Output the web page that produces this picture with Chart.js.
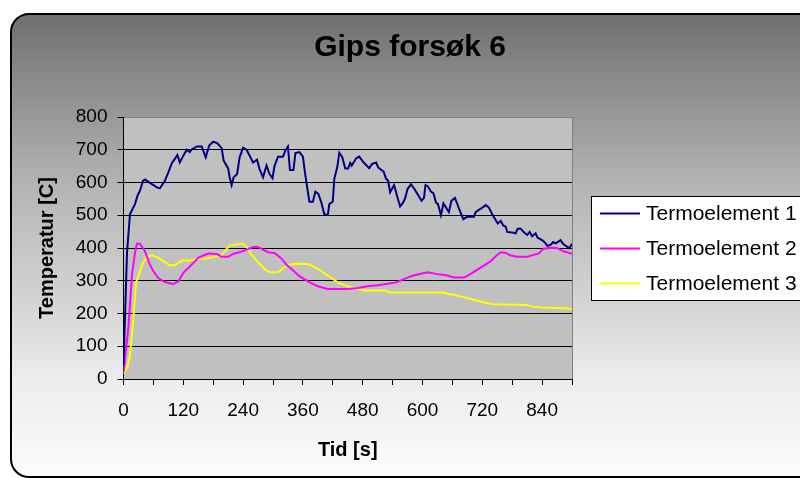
<!DOCTYPE html>
<html>
<head>
<meta charset="utf-8">
<script src="https://cdn.jsdelivr.net/npm/chart.js@4"></script>
<style>
  html, body { margin: 0; padding: 0; background: #fff; }
  #cadre { width: 800px; height: 478px; }
</style>
</head>
<body>
<div id="cadre"><canvas id="monGraphique" width="800" height="478"></canvas></div>
<script>
// Noms et couleurs des séries
const nomsSeries = ['Termoelement 1', 'Termoelement 2', 'Termoelement 3'];
const couleursSeries = ['#000080', '#FF00FF', '#FFFF00'];

// Termoelement 1 (temps en s, température en C)
const temps1 = [0, 7, 13, 23, 28, 33, 39, 43, 57, 67, 73, 83, 90, 97, 103, 108, 113, 120, 127, 133,
  137, 147, 157, 165, 172, 180, 188, 197, 201, 210, 213, 217, 221, 228, 233, 240, 247, 253, 260, 268,
  273, 280, 287, 293, 299, 303, 310, 320, 325, 330, 334, 341, 345, 353, 360, 365, 373, 380, 385, 391,
  397, 403, 410, 413, 420, 423, 429, 433, 439, 445, 451, 455, 458, 467, 473, 482, 493, 499, 507, 511,
  522, 527, 531, 535, 543, 549, 555, 560, 565, 570, 577, 585, 593, 598, 603, 606, 611, 617, 622, 627,
  631, 637, 642, 647, 653, 658, 665, 670, 675, 682, 689, 697, 703, 707, 717, 727, 733, 740, 747, 751,
  757, 762, 767, 770, 780, 787, 791, 797, 803, 810, 815, 820, 827, 831, 838, 845, 851, 858, 862, 867,
  871, 877, 882, 890, 895, 900];
const temp1 = [42, 385, 503, 534, 559, 575, 605, 609, 595, 585, 582, 605, 631, 659, 672, 684, 661, 682, 700, 693,
  701, 710, 710, 677, 713, 725, 720, 705, 667, 643, 616, 592, 616, 626, 677, 706, 700, 682, 661, 670,
  641, 616, 652, 626, 613, 650, 679, 679, 698, 710, 638, 638, 690, 693, 679, 621, 541, 541, 572, 565,
  539, 503, 501, 534, 542, 611, 647, 691, 677, 643, 643, 660, 652, 674, 679, 661, 644, 657, 661, 646,
  633, 611, 606, 570, 592, 559, 527, 536, 551, 580, 595, 577, 557, 544, 553, 592, 588, 572, 567, 539,
  534, 500, 536, 524, 510, 544, 553, 534, 513, 488, 495, 496, 495, 510, 520, 531, 524, 503, 485, 475,
  483, 469, 465, 449, 447, 445, 459, 459, 449, 440, 449, 436, 445, 431, 426, 418, 406, 411, 418, 414,
  418, 424, 413, 404, 399, 413];

// Termoelement 2
const temps2 = [0, 10, 17, 23, 27, 33, 43, 53, 60, 70, 80, 90, 100, 110, 120, 130, 140, 150, 160, 170,
  187, 197, 210, 220, 233, 247, 260, 270, 280, 290, 303, 317, 327, 340, 353, 370, 390, 410, 450, 470,
  490, 510, 530, 547, 563, 577, 590, 610, 627, 647, 663, 683, 693, 707, 723, 737, 747, 757, 767, 777,
  790, 810, 823, 833, 843, 857, 870, 883, 900];
const temp2 = [20, 160, 319, 385, 413, 413, 390, 349, 329, 308, 298, 293, 290, 298, 324, 339, 354, 370, 377, 383,
  382, 373, 373, 382, 387, 395, 403, 403, 395, 387, 385, 368, 349, 332, 314, 298, 283, 275, 275, 278,
  283, 286, 291, 295, 305, 314, 319, 326, 321, 317, 310, 310, 317, 331, 346, 360, 375, 387, 385, 377,
  373, 373, 379, 383, 398, 401, 400, 390, 382];

// Termoelement 3
const temps3 = [0, 8, 13, 19, 25, 32, 39, 47, 57, 67, 80, 93, 103, 117, 133, 153, 167, 187, 197, 203,
  213, 227, 237, 245, 257, 270, 283, 293, 310, 323, 337, 350, 370, 383, 397, 410, 430, 450, 470, 483,
  527, 533, 643, 650, 663, 683, 703, 727, 743, 810, 820, 840, 887, 900];
const temp3 = [16, 37, 73, 170, 293, 324, 354, 373, 378, 372, 360, 347, 347, 362, 362, 367, 368, 375, 377, 390,
  408, 411, 414, 406, 380, 357, 336, 326, 326, 342, 351, 352, 351, 342, 329, 316, 295, 283, 275, 270,
  270, 264, 264, 260, 257, 250, 242, 233, 228, 226, 221, 218, 216, 213];

// Axes
const tempsMax = 900;
const pasGraduation = 60;
const pasEtiquette = 120;
const temperatureMax = 800;
const pasTemperature = 100;

const police = '"Liberation Sans", Arial, sans-serif';
Chart.defaults.font.family = police;
Chart.defaults.color = '#000';

function enPoints(xs, ys) {
  return xs.map((x, i) => ({ x: x, y: ys[i] }));
}

// Fond dégradé, cadre arrondi et zone de tracé grise
const fondExcel = {
  id: 'fondExcel',
  beforeDraw(chart) {
    const ctx = chart.ctx;
    const a = chart.chartArea;
    ctx.save();
    ctx.fillStyle = '#fff';
    ctx.fillRect(0, 0, chart.width, chart.height);

    const x0 = 11, y0 = 14, x1 = 832, y1 = 477, r = 18;
    const grad = ctx.createLinearGradient(0, y0, 0, y1);
    grad.addColorStop(0, '#6e6e6e');
    grad.addColorStop(0.076, '#7e7e7e');
    grad.addColorStop(0.37, '#b4b4b4');
    grad.addColorStop(0.62, '#d4d4d4');
    grad.addColorStop(0.79, '#ececec');
    grad.addColorStop(1, '#fcfcfc');
    ctx.beginPath();
    ctx.moveTo(x0 + r, y0);
    ctx.lineTo(x1 - r, y0);
    ctx.arcTo(x1, y0, x1, y0 + r, r);
    ctx.lineTo(x1, y1 - r);
    ctx.arcTo(x1, y1, x1 - r, y1, r);
    ctx.lineTo(x0 + r, y1);
    ctx.arcTo(x0, y1, x0, y1 - r, r);
    ctx.lineTo(x0, y0 + r);
    ctx.arcTo(x0, y0, x0 + r, y0, r);
    ctx.closePath();
    ctx.fillStyle = grad;
    ctx.fill();
    ctx.lineWidth = 2;
    ctx.strokeStyle = '#000';
    ctx.stroke();

    ctx.fillStyle = '#C0C0C0';
    ctx.fillRect(a.left, a.top, a.right - a.left, a.bottom - a.top);
    ctx.strokeStyle = '#808080';
    ctx.lineWidth = 1;
    ctx.beginPath();
    ctx.moveTo(Math.round(a.right) + 0.5, a.top);
    ctx.lineTo(Math.round(a.right) + 0.5, a.bottom);
    ctx.stroke();
    ctx.restore();
  }
};

// Légende encadrée à droite (comme dans Excel)
const legendeExcel = {
  id: 'legendeExcel',
  afterDraw(chart) {
    const ctx = chart.ctx;
    ctx.save();
    ctx.fillStyle = '#fff';
    ctx.strokeStyle = '#000';
    ctx.lineWidth = 1;
    ctx.fillRect(591.5, 196.5, 260, 104);
    ctx.strokeRect(591.5, 196.5, 260, 104);
    ctx.font = '21px ' + police;
    ctx.textBaseline = 'middle';
    chart.data.datasets.forEach((ds, i) => {
      const y = 213.5 + i * 35;
      ctx.strokeStyle = ds.borderColor;
      ctx.lineWidth = 2;
      ctx.beginPath();
      ctx.moveTo(600, y);
      ctx.lineTo(640, y);
      ctx.stroke();
      ctx.fillStyle = '#000';
      ctx.fillText(ds.label, 646, y + 1);
    });
    ctx.restore();
  }
};

const series = [enPoints(temps1, temp1), enPoints(temps2, temp2), enPoints(temps3, temp3)];

const ctx = document.getElementById('monGraphique').getContext('2d');
new Chart(ctx, {
  type: 'line',
  data: {
    datasets: series.map((pts, i) => ({
      label: nomsSeries[i],
      data: pts,
      borderColor: couleursSeries[i],
      backgroundColor: couleursSeries[i],
      borderWidth: 2,
      pointRadius: 0,
      tension: 0,
      fill: false
    }))
  },
  options: {
    responsive: false,
    animation: false,
    devicePixelRatio: 1,
    layout: { padding: { left: 20, right: 0, top: 0, bottom: 0 }, autoPadding: false },
    plugins: {
      legend: { display: false },
      tooltip: { enabled: false },
      title: {
        display: true,
        text: 'Gips forsøk 6',
        color: '#000',
        font: { size: 30, weight: 'bold', lineHeight: 1.2 },
        padding: { top: 30, bottom: 51 }
      }
    },
    scales: {
      x: {
        type: 'linear',
        position: 'bottom',
        min: 0,
        max: tempsMax,
        afterFit: s => { s.height = 99; },
        ticks: {
          stepSize: pasGraduation,
          autoSkip: false,
          maxRotation: 0,
          padding: 14,
          font: { size: 19 },
          color: '#000',
          callback: v => (v % pasEtiquette === 0 ? v : '')
        },
        grid: { drawOnChartArea: false, drawTicks: true, tickLength: 6, color: '#000', tickColor: '#000' },
        border: { color: '#000', width: 1 },
        title: { display: true, text: 'Tid [s]', font: { size: 20, weight: 'bold' }, color: '#000', padding: { top: 0, bottom: 16 } }
      },
      y: {
        min: 0,
        max: temperatureMax,
        afterFit: s => { s.width = 103.5; },
        ticks: { stepSize: pasTemperature, padding: 10, font: { size: 19 }, color: '#000' },
        grid: {
          color: c => (c.tick && c.tick.value === temperatureMax ? '#808080' : '#000'),
          tickColor: '#000',
          tickLength: 6,
          drawTicks: true
        },
        border: { color: '#000', width: 1 },
        title: { display: true, text: 'Temperatur [C]', font: { size: 20, weight: 'bold' }, color: '#000', padding: { top: 15, bottom: 0 } }
      },
      reserve: {
        type: 'linear',
        position: 'right',
        display: true,
        afterFit: s => { s.width = 228; },
        grid: { display: false },
        ticks: { display: false },
        border: { display: false }
      }
    }
  },
  plugins: [fondExcel, legendeExcel]
});
</script>
</body>
</html>
